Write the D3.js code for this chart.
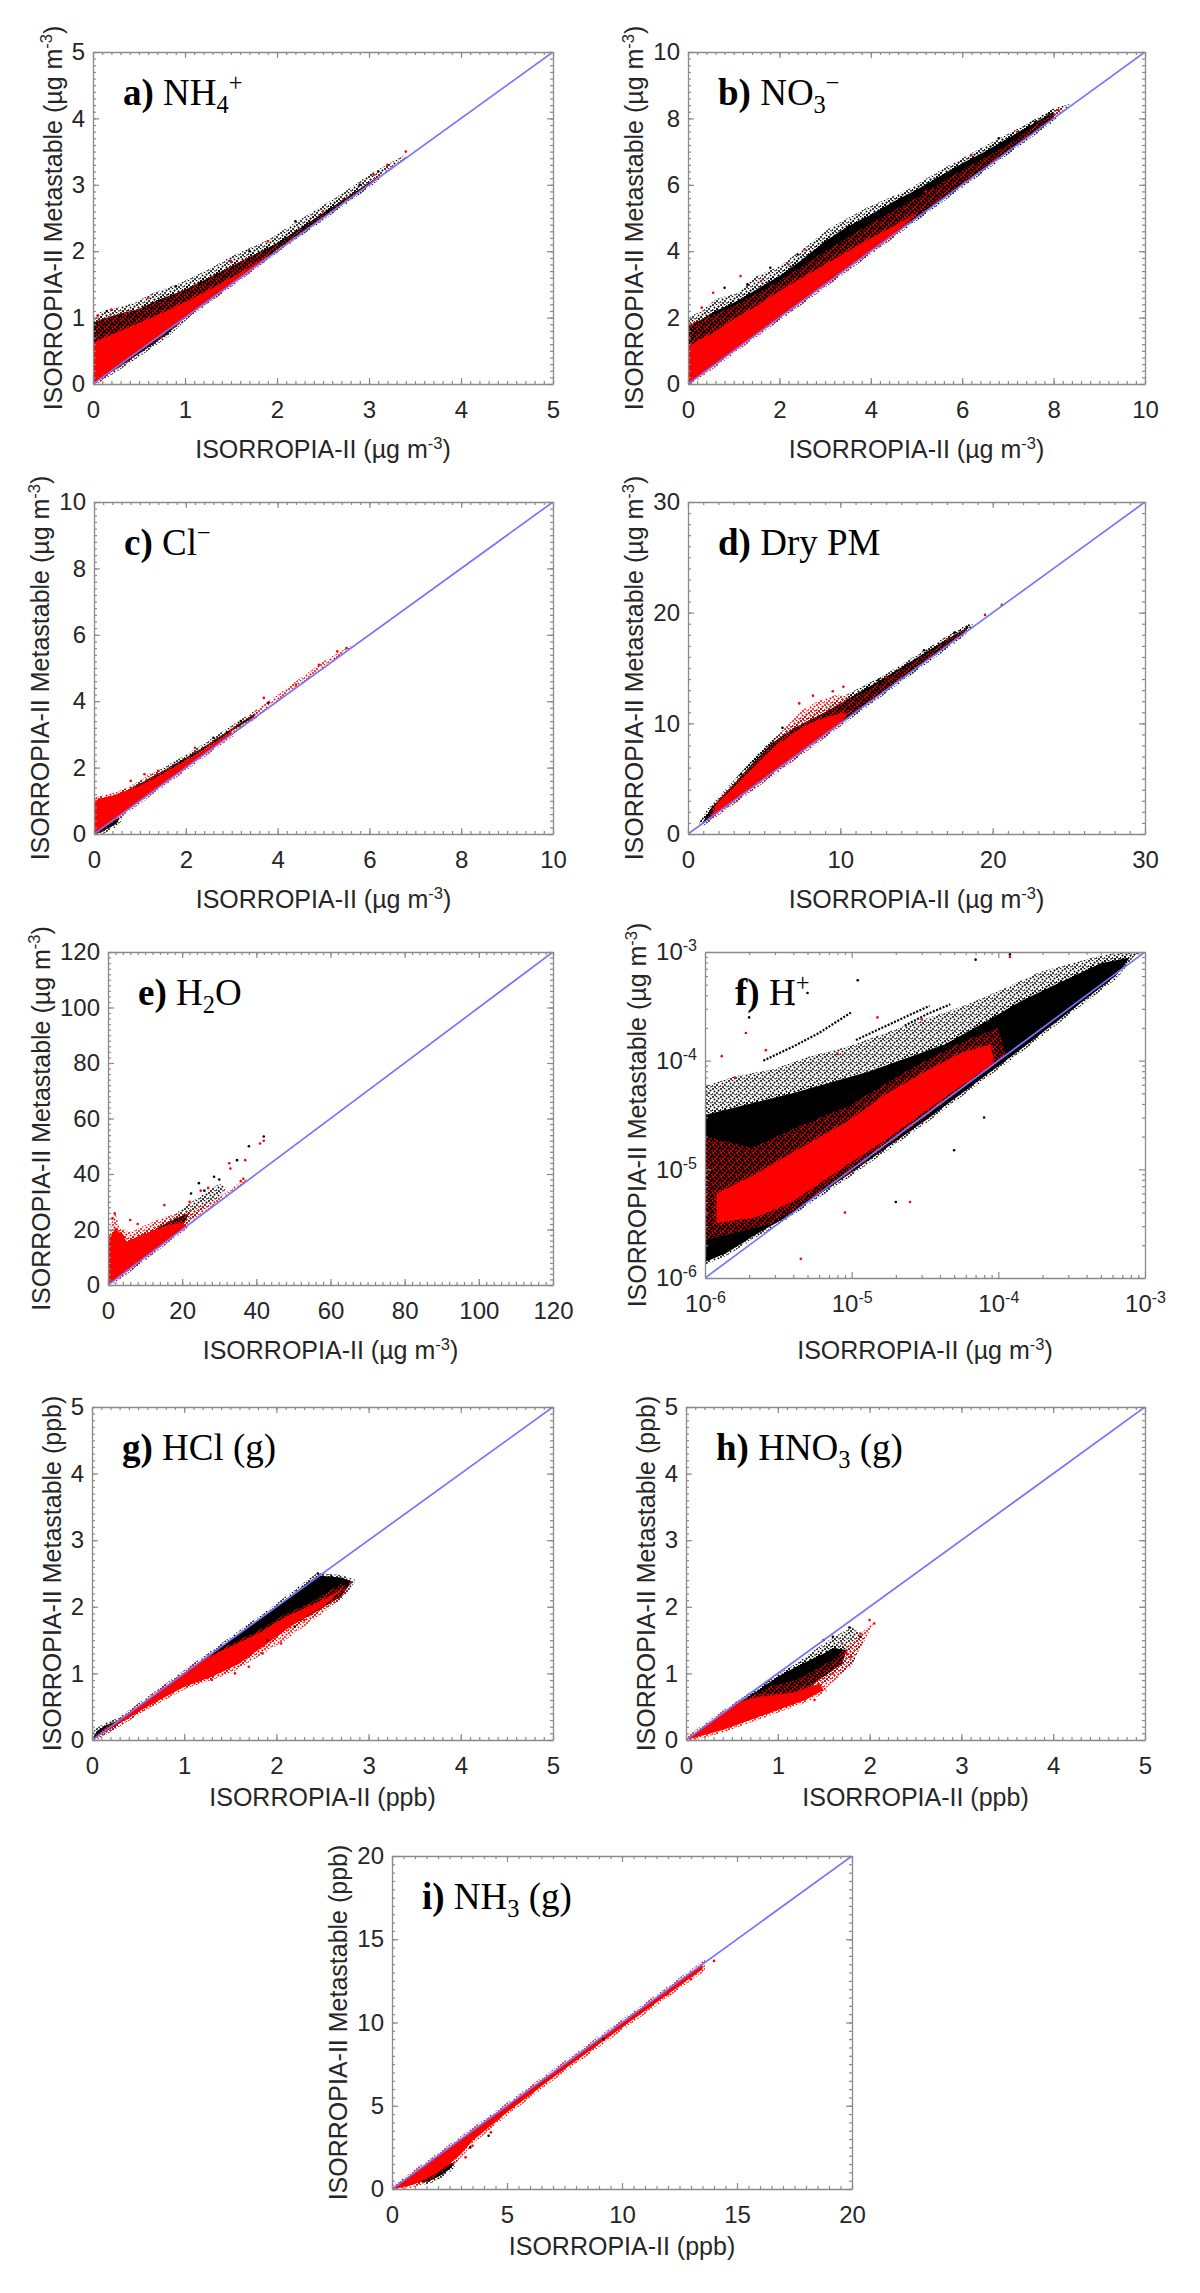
<!DOCTYPE html>
<html>
<head>
<meta charset="utf-8">
<script src="https://cdn.jsdelivr.net/npm/d3@7"></script>
<style>
  body { margin: 0; background: #fff; }
</style>
</head>
<body>
<div id="chart"></div>
<script>
// ---------------- data ----------------
// tick values
const aTicks = [0, 1, 2, 3, 4, 5];
const bTicks = [0, 2, 4, 6, 8, 10];
const cTicks = [0, 2, 4, 6, 8, 10];
const dTicks = [0, 10, 20, 30];
const eTicks = [0, 20, 40, 60, 80, 100, 120];
const fTicks = [1e-6, 1e-5, 1e-4, 1e-3];
const gTicks = [0, 1, 2, 3, 4, 5];
const hTicks = [0, 1, 2, 3, 4, 5];
const iTicks = [0, 5, 10, 15, 20];

// panel titles: [text, style]  b = bold, sub, sup
const aTitle = [["a)", "b"], [" NH", ""], ["4", "sub"], ["+", "sup"]];
const bTitle = [["b)", "b"], [" NO", ""], ["3", "sub"], ["\u2212", "sup"]];
const cTitle = [["c)", "b"], [" Cl", ""], ["\u2212", "sup"]];
const dTitle = [["d)", "b"], [" Dry PM", ""]];
const eTitle = [["e)", "b"], [" H", ""], ["2", "sub"], ["O", ""]];
const fTitle = [["f)", "b"], [" H", ""], ["+", "sup"]];
const gTitle = [["g)", "b"], [" HCl (g)", ""]];
const hTitle = [["h)", "b"], [" HNO", ""], ["3", "sub"], [" (g)", ""]];
const iTitle = [["i)", "b"], [" NH", ""], ["3", "sub"], [" (g)", ""]];

// point clouds: envelopes of the dense areas and stray points  [ISORROPIA-II, Metastable]
// a) NH4+
const aBlackOuter = [[0,0],[0,1.0],[0.08,1.08],[0.25,1.15],[0.45,1.22],[0.65,1.37],[0.95,1.52],[1.3,1.76],[1.5,1.92],[1.9,2.17],[2.3,2.52],[2.7,2.86],[3.0,3.15],[3.4,3.46],[3.3,3.32],[2.8,2.8],[2.0,2.0],[1.2,1.19],[0.8,0.74],[0.55,0.5],[0.35,0.3],[0.15,0.13]];
const aBlackCore = [[0,0.02],[0,0.92],[0.1,0.98],[0.3,1.06],[0.5,1.13],[0.7,1.26],[1.0,1.42],[1.3,1.63],[1.6,1.84],[2.0,2.12],[2.4,2.48],[2.8,2.85],[3.1,3.12],[3.0,3.0],[2.0,2.02],[1.5,1.51],[1.0,1.0],[0.8,0.74],[0.6,0.55],[0.4,0.36],[0.2,0.18]];
const aRedOuter = [[0,0.55],[0.03,0.95],[0.2,1.05],[0.45,1.12],[0.8,1.3],[1.2,1.55],[1.6,1.85],[2.0,2.1],[2.5,2.55],[3.0,3.05],[3.45,3.47],[3.4,3.4],[2.5,2.5],[1.6,1.6],[0.6,0.6]];
const aRedCore = [[0,0],[0,0.62],[0.1,0.68],[0.3,0.8],[0.5,0.92],[0.8,1.1],[1.1,1.3],[1.4,1.52],[1.7,1.76],[1.9,1.93],[1.8,1.81],[1.4,1.41],[1.0,1.01],[0.6,0.6],[0.3,0.3]];
const aRedPts = [[0.05,1.03],[0.2,1.12],[0.35,1.06],[0.6,1.3],[1.5,1.85],[1.9,2.15],[2.5,2.6],[3.05,3.15],[3.2,3.3],[3.4,3.5]];
const aBlackPts = [[0.15,1.1],[0.9,1.47],[1.7,2.0],[2.2,2.45],[2.9,3.0],[3.1,3.2]];

// b) NO3-
const bBlackOuter = [[0,0],[0,2.0],[0.3,2.2],[0.6,2.55],[1.1,2.75],[1.5,3.25],[2.0,3.55],[2.5,4.05],[3.1,4.7],[3.9,5.3],[4.8,5.85],[5.6,6.5],[6.4,7.1],[7.3,7.75],[8.0,8.3],[8.4,8.45],[8.0,8.0],[5.0,4.98],[2.0,1.98]];
const bBlackCore = [[0,0.2],[0,1.75],[0.3,1.95],[0.6,2.2],[1.0,2.45],[1.5,2.85],[2.0,3.25],[2.5,3.75],[3.0,4.3],[3.5,4.75],[4.0,5.1],[4.5,5.5],[5.0,5.85],[5.5,6.25],[6.0,6.65],[6.5,7.0],[7.0,7.4],[7.5,7.8],[8.0,8.2],[8.0,8.0],[5.0,5.0],[2.0,2.0]];
const bRedOuter = [[0,0.9],[0,1.85],[0.4,2.0],[1.0,2.35],[2.0,3.1],[3.0,4.0],[4.0,4.85],[5.0,5.6],[6.0,6.45],[7.0,7.2],[8.0,8.2],[8.3,8.35],[7.0,7.0],[5.0,5.0],[3.0,3.0],[1.0,1.0]];
const bRedCore = [[0,0],[0,1.1],[0.2,1.3],[0.5,1.5],[1.0,1.95],[1.5,2.35],[2.0,2.8],[2.5,3.2],[3.0,3.6],[3.5,4.0],[4.0,4.4],[4.5,4.75],[5.0,5.15],[4.5,4.5],[3.0,3.0],[1.5,1.5]];
const bRedPts = [[0.3,2.3],[0.55,2.75],[1.15,3.25],[1.6,3.1],[2.2,3.6],[2.55,4.05],[5.2,5.8],[6.2,6.9],[7.2,7.6],[8.1,8.25]];
const bBlackPts = [[0.8,2.9],[1.3,3.0],[1.8,3.5],[2.4,3.9],[6.8,7.4],[7.6,7.9],[7.9,8.15]];

// c) Cl-
const cBlackBlob = [[0,0],[0.15,0.05],[0.35,0.2],[0.5,0.32],[0.55,0.45],[0.45,0.48],[0.25,0.3],[0,0.08]];
const cBlackStreak = [[0.3,1.0],[0.6,1.22],[1.0,1.52],[1.5,1.9],[2.0,2.3],[2.5,2.72],[3.0,3.18],[3.5,3.62],[3.5,3.55],[3.0,3.1],[2.5,2.63],[2.0,2.2],[1.5,1.8],[1.0,1.42],[0.6,1.12],[0.3,0.92]];
const cRedOuter = [[0,0.9],[0.05,1.12],[0.5,1.2],[1.0,1.55],[1.2,1.82],[1.6,1.95],[2.5,2.7],[3.5,3.7],[4.2,4.4],[5.0,5.2],[5.6,5.68],[5.6,5.6],[4.0,4.0],[2.0,2.0],[0.5,0.5]];
const cRedCore = [[0,0],[0,1.0],[0.15,1.08],[0.4,1.15],[0.7,1.3],[1.0,1.45],[1.5,1.8],[2.0,2.2],[2.5,2.62],[3.0,3.1],[3.0,3.0],[1.5,1.5],[0.5,0.5]];
const cRedPts = [[1.1,1.8],[0.8,1.6],[1.4,1.9],[2.2,2.6],[3.7,4.1],[4.4,4.5],[4.9,5.1],[5.3,5.5],[5.5,5.6]];
const cBlackPts = [[2.6,2.9],[2.9,3.05],[3.2,3.4],[3.8,3.95]];

// d) Dry PM
const dBlackOuter = [[0.7,0.6],[0.8,1.2],[1.8,2.8],[3.0,4.7],[4.3,6.8],[5.5,8.5],[6.8,9.9],[7.8,10.9],[9.3,11.8],[11.8,13.6],[14.3,15.2],[16.8,17.7],[18.6,19.0],[18.8,18.8],[15,15],[10,10],[5,5]];
const dBlackCore = [[0.9,0.9],[1.5,2.3],[3.0,4.5],[4.3,6.5],[5.5,8.2],[7.0,9.6],[9.0,11.0],[11,12.6],[13,14.2],[15,15.9],[17,17.6],[18.5,18.8],[18,18],[10,10],[5,5]];
const dRedOuter = [[1.3,1.4],[2,3.1],[4,6.0],[6.5,9.8],[7.5,11.2],[8.5,12.0],[9.8,12.6],[10.8,12.3],[12,13.2],[14,14.9],[16,16.6],[18.5,18.8],[18.5,18.5],[12,12],[6,6],[1.3,1.3]];
const dRedCore = [[1.5,1.6],[2,2.9],[3,4.2],[4,5.6],[5,7.0],[6,8.2],[7,9.2],[8,10.0],[9,10.5],[10,10.9],[10.5,10.9],[10,10],[8,7.95],[5,4.95],[3,2.95],[1.5,1.5]];
const dRedPts = [[7.3,11.8],[8.2,12.5],[9.5,12.9],[10.2,13.3],[13,14.2],[17,17.6],[19.5,19.8],[20.6,20.7]];
const dBlackPts = [[3.5,5.4],[6.2,9.6],[12.5,13.9],[15.5,16.6],[17.5,18.2],[18.3,18.7]];

// e) H2O
const eBlackOuter = [[3,14],[6,17],[10,19.5],[14,22],[18,25.5],[22,29.5],[26,33],[30,36.5],[32,35],[30,31.5],[25,26],[20,21],[10,10],[3,3]];
const eBlackCore = [[4,14],[8,17],[12,19.5],[16,22.5],[20,25],[22,26],[20,21],[10,10],[4,4]];
const eRedOuter = [[0,14],[0.8,22],[2,26],[3,21],[6,19],[10,21.5],[15,24.5],[20,26],[25,28.5],[30,31.5],[35,36.5],[38,38.5],[38,38],[30,30],[20,20]];
const eRedCore = [[0,0],[0,16],[1,18],[2,20.5],[3,19],[4,18.5],[5,15.5],[8,17.5],[12,19.5],[16,21.5],[20,22.5],[21,21],[10,10]];
const eRedPts = [[1.8,25.8],[1.2,24],[6,23.4],[8,22],[15.2,28.8],[22,30],[25,34],[27,35],[32.7,43.9],[33,42],[35.8,37.5],[36.5,38.3],[37,45],[41,51],[42,52]];
const eBlackPts = [[22.4,33],[24.5,36.7],[26,34],[28.6,39],[30,38],[34.8,45],[38,50],[42,53.5]];

// f) H+ (log axes)
const fBlackOuter = [[1e-6,3e-5],[1e-6,5.8e-5],[1.6e-6,7.2e-5],[2.9e-6,8.3e-5],[5.2e-6,1.1e-4],[9.5e-6,1.35e-4],[2.3e-5,2.1e-4],[5.75e-5,3.16e-4],[1.05e-4,4.5e-4],[1.9e-4,6.5e-4],[4.7e-4,9.1e-4],[6.8e-4,1e-3],[1e-3,1e-3],[7.9e-4,8.9e-4],[2.6e-4,5.2e-4],[4.3e-5,1.41e-4],[3.9e-6,5e-5]];
const fBlackCore = [[1e-6,3.16e-5],[3.9e-6,5e-5],[1.3e-5,7.9e-5],[4.3e-5,1.41e-4],[7.8e-5,2.2e-4],[1.41e-4,3.5e-4],[2.6e-4,5.2e-4],[5e-4,7.9e-4],[7.9e-4,8.9e-4],[6.3e-4,6e-4],[1.41e-4,1.26e-4],[3.16e-5,2.8e-5],[9.5e-6,8.9e-6],[3.4e-6,3.5e-6],[2.1e-6,2.4e-6],[1.4e-6,1.7e-6],[1e-6,1.4e-6]];
const fRedOuter = [[1e-6,2e-5],[2.1e-6,1.58e-5],[4.4e-6,2.5e-5],[9.5e-6,3.8e-5],[1.74e-5,6.3e-5],[3.16e-5,1e-4],[5.75e-5,1.51e-4],[1e-4,2e-4],[1.12e-4,1.12e-4],[3.16e-5,3e-5],[9.5e-6,8.9e-6],[2.9e-6,3.16e-6],[1e-6,2.24e-6]];
const fRedCore = [[1.2e-6,6e-6],[2.2e-6,9e-6],[3.9e-6,1.41e-5],[9.5e-6,2.8e-5],[1.74e-5,5e-5],[3.16e-5,7.9e-5],[5.75e-5,1.2e-4],[8.9e-5,1.41e-4],[9.3e-5,9.5e-5],[5.75e-5,6e-5],[3.16e-5,3.4e-5],[1.74e-5,1.9e-5],[9.5e-6,1.12e-5],[3.9e-6,5e-6],[2.2e-6,3.6e-6],[1.2e-6,3.2e-6]];
const fStreak1 = [[2.5e-6,1.0e-4],[4e-6,1.35e-4],[6e-6,1.8e-4],[1e-5,2.8e-4]];
const fStreak2 = [[1.07e-5,1.55e-4],[2e-5,2.3e-4],[3.4e-5,3.2e-4]];
const fStreak3 = [[2.3e-5,2.1e-4],[3.3e-5,2.7e-4],[4.7e-5,3.3e-4]];
const fRedPts = [[1.9e-6,1.8e-4],[1.3e-6,1.1e-4],[2.6e-6,1.25e-4],[1.6e-6,7e-5],[8e-6,1.15e-4],[1.5e-5,2.5e-4],[3e-5,2.4e-4],[2.5e-5,5e-6],[9e-6,4e-6],[4.5e-6,1.5e-6],[1.2e-4,9e-4]];
const fBlackPts = [[5e-6,4.2e-4],[1.1e-5,5.5e-4],[4e-6,3.3e-4],[2e-6,2.5e-4],[7e-5,8.5e-4],[1.2e-4,9.5e-4],[5e-5,1.5e-5],[8e-5,3e-5],[2e-5,5e-6]];

// g) HCl(g)
const gBlackCore = [[0,0],[0.05,0.13],[0.15,0.22],[0.3,0.3],[0.5,0.5],[1,1],[1.5,1.5],[2,2],[2.3,2.32],[2.45,2.47],[2.7,2.44],[2.82,2.38],[2.7,2.15],[2.4,1.9],[2.0,1.6],[1.7,1.35],[1.4,1.15],[1.0,0.88],[0.6,0.52],[0.3,0.25]];
const gRedOuter = [[1.0,0.78],[1.3,0.9],[1.5,1.0],[1.8,1.25],[2.1,1.5],[2.5,1.9],[2.8,2.25],[2.7,2.35],[2.3,2.0],[1.8,1.5],[1.4,1.2],[1.0,0.9]];
const gRedCore = [[0,0],[0.6,0.6],[1.2,1.2],[1.5,1.4],[1.8,1.6],[2.1,1.85],[2.5,2.1],[2.75,2.3],[2.5,2.0],[2.2,1.75],[1.9,1.45],[1.6,1.15],[1.3,0.95],[1.0,0.8],[0.6,0.5],[0.3,0.25]];
const gRedPts = [[1.55,1.0],[1.7,1.1],[1.85,1.3],[2.05,1.45],[2.6,2.1],[2.8,2.35],[1.3,0.9],[2.3,1.8]];
const gBlackPts = [[2.6,2.45],[2.45,2.5],[2.2,1.7],[1.9,1.5]];

// h) HNO3(g)
const hBlackOuter = [[0,0],[0.8,0.8],[1.2,1.15],[1.5,1.45],[1.8,1.7],[1.95,1.55],[1.8,1.1],[1.5,0.85],[1.1,0.55],[0.6,0.25]];
const hBlackCore = [[0.3,0.25],[0.6,0.58],[0.8,0.76],[1.0,0.95],[1.2,1.1],[1.35,1.2],[1.5,1.3],[1.6,1.38],[1.75,1.35],[1.7,1.15],[1.5,0.95],[1.3,0.75],[1.0,0.55],[0.7,0.38],[0.4,0.2]];
const hRedOuter = [[0.6,0.58],[0.9,0.8],[1.2,0.9],[1.6,1.2],[1.9,1.6],[2.05,1.78],[1.95,1.5],[1.75,1.05],[1.5,0.75],[1.0,0.45],[0.6,0.3]];
const hRedCore = [[0,0],[0.35,0.35],[0.6,0.58],[0.8,0.65],[1.0,0.68],[1.2,0.72],[1.45,0.85],[1.5,0.75],[1.3,0.6],[1.0,0.45],[0.7,0.3],[0.4,0.15]];
const hRedPts = [[2.0,1.8],[2.05,1.75],[1.9,1.6],[1.7,1.45],[1.8,1.25],[1.6,1.0],[1.4,0.6],[1.75,1.3]];
const hBlackPts = [[1.78,1.69],[1.6,1.55],[1.5,1.5],[1.55,1.25],[1.9,1.55]];

// i) NH3(g)
const iBlackCore = [[1.2,0.4],[1.6,0.45],[2.1,0.8],[2.6,1.3],[2.7,1.6],[2.3,1.4],[1.8,1.0],[1.3,0.6]];
const iRedCore = [[0,0],[3,3],[6,6],[10,10],[13.5,13.5],[13.5,13.2],[10,9.7],[7,6.7],[5,4.6],[3.5,2.9],[3,2.1],[2.5,1.5],[2,1.0],[1.5,0.6],[1,0.3],[0.5,0.1]];
const iRedPts = [[3.2,1.9],[3.5,2.6],[4.3,3.4],[12,11.7],[13,12.6],[14,13.7]];
const iBlackPts = [[3.4,2.5],[4.2,3.2],[9.2,9.0]];

// ---------------- layout ----------------
const panels = [
  { box: [93, 553, 52, 384],    dom: [0, 5],       ticks: aTicks, unit: "ug",  xlabY: 458,  title: aTitle,
    blackOuter: [aBlackOuter], blackCore: [aBlackCore], redOuter: [aRedOuter], redCore: [aRedCore], redPts: aRedPts, blackPts: aBlackPts },
  { box: [688, 1145, 52, 384],  dom: [0, 10],      ticks: bTicks, unit: "ug",  xlabY: 458,  title: bTitle,
    blackOuter: [bBlackOuter], blackCore: [bBlackCore], redOuter: [bRedOuter], redCore: [bRedCore], redPts: bRedPts, blackPts: bBlackPts },
  { box: [94, 553, 502, 834],   dom: [0, 10],      ticks: cTicks, unit: "ug",  xlabY: 908,  title: cTitle,
    blackOuter: [], blackCore: [cBlackBlob, cBlackStreak], redOuter: [cRedOuter], redCore: [cRedCore], redPts: cRedPts, blackPts: cBlackPts },
  { box: [688, 1145, 502, 834], dom: [0, 30],      ticks: dTicks, unit: "ug",  xlabY: 908,  title: dTitle,
    blackOuter: [dBlackOuter], blackCore: [dBlackCore], redOuter: [dRedOuter], redCore: [dRedCore], redPts: dRedPts, blackPts: dBlackPts },
  { box: [108, 553, 952, 1285], dom: [0, 120],     ticks: eTicks, unit: "ug",  xlabY: 1359, title: eTitle,
    blackOuter: [eBlackOuter], blackCore: [eBlackCore], redOuter: [eRedOuter], redCore: [eRedCore], redPts: eRedPts, blackPts: eBlackPts },
  { box: [705, 1145, 952, 1278], dom: [1e-6, 1e-3], ticks: fTicks, unit: "ug", xlabY: 1359, title: fTitle, log: true,
    blackOuter: [fBlackOuter], blackCore: [fBlackCore], redOuter: [fRedOuter], redCore: [fRedCore], redPts: fRedPts, blackPts: fBlackPts,
    streaks: [fStreak1, fStreak2, fStreak3] },
  { box: [92, 553, 1407, 1740], dom: [0, 5],       ticks: gTicks, unit: "ppb", xlabY: 1806, title: gTitle,
    blackOuter: [], blackCore: [gBlackCore], redOuter: [gRedOuter], redCore: [gRedCore], redPts: gRedPts, blackPts: gBlackPts },
  { box: [686, 1145, 1407, 1740], dom: [0, 5],     ticks: hTicks, unit: "ppb", xlabY: 1806, title: hTitle,
    blackOuter: [hBlackOuter], blackCore: [hBlackCore], redOuter: [hRedOuter], redCore: [hRedCore], redPts: hRedPts, blackPts: hBlackPts },
  { box: [392, 852, 1856, 2189], dom: [0, 20],     ticks: iTicks, unit: "ppb", xlabY: 2255, title: iTitle,
    blackOuter: [], blackCore: [iBlackCore], redOuter: [], redCore: [iRedCore], redPts: iRedPts, blackPts: iBlackPts }
];

const AXIS = "#8a8a8a";
const TXT = "#262626";
const SANS = "'Liberation Sans', Arial, sans-serif";
const SERIF = "'Liberation Serif', 'Times New Roman', serif";

const svg = d3.select("#chart").append("svg")
    .attr("width", 1200)
    .attr("height", 2293);

svg.append("rect").attr("width", 1200).attr("height", 2293).attr("fill", "#fff");

// speckle fills for the sparse parts of the clouds (uneven dot layout in an 8px tile)
const defs = svg.append("defs");
const speckDots = [[1,1,1],[4.5,0.5,0.8],[6.5,2.5,1],[2.5,3.5,0.9],[5,5,1],[0.5,6,0.8],[3,7,1],[7,6.8,0.8]];
function speck(id, color) {
    let p = defs.append("pattern")
        .attr("id", id)
        .attr("width", 8).attr("height", 8)
        .attr("patternUnits", "userSpaceOnUse");
    p.selectAll("circle").data(speckDots).enter().append("circle")
        .attr("cx", d => d[0]).attr("cy", d => d[1]).attr("r", d => d[2]).attr("fill", color);
}
speck("spkK", "#000");
speck("spkR", "#ff0000");

function addText(sel, parts, size) {
    // parts: [text, style]; keeps track of baseline shift for sub/sup
    let cur = 0;
    parts.forEach(function (d) {
        let target = d[1] === "sub" ? size * 0.22 : d[1] === "sup" ? -size * 0.38 : 0;
        let t = sel.append("tspan")
            .attr("dy", target - cur)
            .text(d[0]);
        if (d[1] === "sub" || d[1] === "sup") t.attr("font-size", size * 0.66);
        if (d[1] === "b") t.attr("font-weight", "bold");
        cur = target;
    });
}

function axisLabel(unit, metastable) {
    let head = metastable ? "ISORROPIA-II Metastable (" : "ISORROPIA-II (";
    if (unit === "ppb") return [[head + "ppb)", ""]];
    return [[head + "\u00b5g m", ""], ["-3", "sup"], [")", ""]];
}

panels.forEach(function (p, k) {
    const [x0, x1, y0, y1] = p.box;
    const xs = (p.log ? d3.scaleLog() : d3.scaleLinear()).domain(p.dom).range([x0, x1]);
    const ys = (p.log ? d3.scaleLog() : d3.scaleLinear()).domain(p.dom).range([y1, y0]);
    const line = d3.line().x(d => xs(d[0])).y(d => ys(d[1]));
    const poly = d3.line().x(d => xs(d[0])).y(d => ys(d[1])).curve(d3.curveLinearClosed);

    defs.append("clipPath").attr("id", "clip" + k)
        .append("rect").attr("x", x0).attr("y", y0).attr("width", x1 - x0).attr("height", y1 - y0);

    let g = svg.append("g").attr("clip-path", "url(#clip" + k + ")");

    g.selectAll(".bo").data(p.blackOuter).enter().append("path")
        .attr("d", poly).attr("fill", "url(#spkK)");
    g.selectAll(".bc").data(p.blackCore).enter().append("path")
        .attr("d", poly).attr("fill", "#000").attr("stroke", "url(#spkK)").attr("stroke-width", 5);
    g.selectAll(".st").data(p.streaks || []).enter().append("path")
        .attr("d", line).attr("fill", "none").attr("stroke", "#000").attr("stroke-width", 2.2)
        .attr("stroke-dasharray", "2,1.5");
    g.selectAll(".ro").data(p.redOuter).enter().append("path")
        .attr("d", poly).attr("fill", "url(#spkR)");
    g.selectAll(".rc").data(p.redCore).enter().append("path")
        .attr("d", poly).attr("fill", "#ff0000").attr("stroke", "url(#spkR)").attr("stroke-width", 5);
    g.selectAll(".bp").data(p.blackPts).enter().append("circle")
        .attr("cx", d => xs(d[0])).attr("cy", d => ys(d[1])).attr("r", 1.3).attr("fill", "#000");
    g.selectAll(".rp").data(p.redPts).enter().append("circle")
        .attr("cx", d => xs(d[0])).attr("cy", d => ys(d[1])).attr("r", 1.3).attr("fill", "#ff0000");

    // 1:1 line
    g.append("path")
        .attr("d", line([[p.dom[0], p.dom[0]], [p.dom[1], p.dom[1]]]))
        .attr("stroke", "#7474ff").attr("stroke-width", 1.7).attr("fill", "none");

    // minor tick positions
    let minor = [];
    if (p.log) {
        p.ticks.slice(0, -1).forEach(t => { for (let m = 2; m < 10; m++) minor.push(t * m); });
    } else {
        let step = (p.ticks[1] - p.ticks[0]) / 10;
        minor = d3.range(p.dom[0], p.dom[1] + step / 2, step);
    }

    let fmt = p.log ? () => "10" : d3.format("d");
    let ax = svg.append("g");

    let gb = ax.append("g").attr("transform", "translate(0," + y1 + ")")
        .call(d3.axisBottom(xs).tickValues(p.ticks).tickSize(-6).tickSizeOuter(0).tickPadding(17).tickFormat(fmt));
    let gl = ax.append("g").attr("transform", "translate(" + x0 + ",0)")
        .call(d3.axisLeft(ys).tickValues(p.ticks).tickSize(-6).tickSizeOuter(0).tickPadding(8).tickFormat(fmt));
    ax.append("g").attr("transform", "translate(0," + y0 + ")")
        .call(d3.axisTop(xs).tickValues(p.ticks).tickSize(-6).tickSizeOuter(0).tickFormat(""));
    ax.append("g").attr("transform", "translate(" + x1 + ",0)")
        .call(d3.axisRight(ys).tickValues(p.ticks).tickSize(-6).tickSizeOuter(0).tickFormat(""));

    [[d3.axisBottom(xs), "translate(0," + y1 + ")"], [d3.axisTop(xs), "translate(0," + y0 + ")"],
     [d3.axisLeft(ys), "translate(" + x0 + ",0)"], [d3.axisRight(ys), "translate(" + x1 + ",0)"]]
        .forEach(function (a) {
            ax.append("g").attr("transform", a[1])
                .call(a[0].tickValues(minor).tickSize(-3).tickSizeOuter(0).tickFormat(""))
                .call(s => s.select(".domain").remove());
        });

    ax.selectAll(".domain").attr("stroke", AXIS).attr("stroke-width", 1.3);
    ax.selectAll(".tick line").attr("stroke", AXIS).attr("stroke-width", 1.2);
    ax.selectAll("g").attr("font-family", SANS).attr("font-size", 24);
    ax.selectAll(".tick text").attr("fill", TXT);

    if (p.log) {
        [gb, gl].forEach(function (s) {
            s.selectAll(".tick text").append("tspan")
                .attr("dy", "-0.55em").attr("font-size", 16)
                .text(d => String(Math.round(Math.log10(d))));
        });
    }

    // y label placed just left of the widest tick label
    let minX = d3.min(gl.selectAll(".tick text").nodes(), n => n.getBBox().x);
    let ly = svg.append("text")
        .attr("transform", "translate(" + (x0 + minX - 10) + "," + ((y0 + y1) / 2) + ") rotate(-90)")
        .attr("text-anchor", "middle")
        .attr("font-family", SANS).attr("font-size", 25).attr("fill", TXT);
    addText(ly, axisLabel(p.unit, true), 25);

    let lx = svg.append("text")
        .attr("x", (x0 + x1) / 2).attr("y", p.xlabY)
        .attr("text-anchor", "middle")
        .attr("font-family", SANS).attr("font-size", 25).attr("fill", TXT);
    addText(lx, axisLabel(p.unit, false), 25);

    // panel title
    let tt = svg.append("text")
        .attr("x", x0 + 30).attr("y", y0 + 53)
        .attr("font-family", SERIF).attr("font-size", 37).attr("fill", "#000");
    addText(tt, p.title, 37);
});
</script>
</body>
</html>
